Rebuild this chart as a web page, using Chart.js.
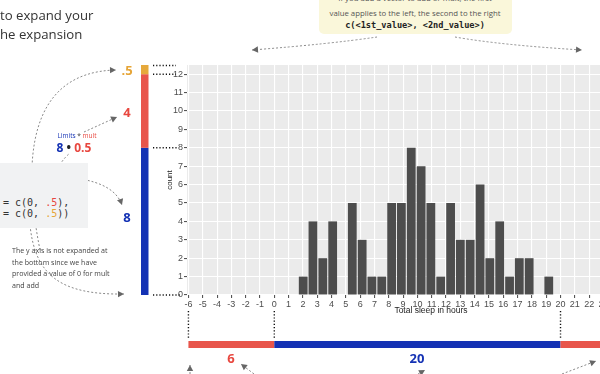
<!DOCTYPE html>
<html>
<head>
<meta charset="utf-8">
<script src="https://cdn.jsdelivr.net/npm/chart.js@4.4.1/dist/chart.umd.min.js"></script>
<style>
  html, body { margin: 0; padding: 0; width: 600px; height: 374px; overflow: hidden; background: #fff; }
  #wrap { position: relative; width: 600px; height: 374px; overflow: hidden; }
  canvas { position: absolute; left: 0; top: 0; }
  .t { position: absolute; white-space: nowrap; font-family: "Open Sans", sans-serif; }
  .c { transform: translate(-50%, -50%); }
  .mono { font-family: "DejaVu Sans Mono", monospace; }
  .blue { color: #1432B4; }
  .red { color: #E8473F; }
  .yel { color: #E6A537; }
  .big { font-weight: 700; font-size: 13px; line-height: 13px; }
</style>
</head>
<body>
<div id="wrap">
  <canvas id="myChart" width="690" height="374"></canvas>

  <div class="t" style="left:0px; top:6px; font-size:13.2px; line-height:18px; color:#333;">to expand your</div>
  <div class="t" style="left:0px; top:25px; font-size:13.2px; line-height:18px; color:#333;">he expansion</div>

  <div class="t" style="left:319px; top:-6px; width:193px; height:40px; background:#FAF7DA; border-radius:5px;"></div>
  <div class="t c" style="left:415px; top:-2px; font-size:7.8px; line-height:9px; color:#555;">If you add a vector to add or mult, the first</div>
  <div class="t c" style="left:415px; top:13px; font-size:7.8px; line-height:9px; color:#555;">value applies to the left, the second to the right</div>
  <div class="t c mono" style="left:415px; top:25px; font-size:8.6px; line-height:10px; font-weight:700; color:#222;">c(&lt;1st_value&gt;, &lt;2nd_value&gt;)</div>

  <div class="t" style="left:0px; top:163px; width:88px; height:65px; background:#F1F2F3;"></div>
  <div class="t mono" style="left:3px; top:197px; font-size:10px; line-height:12px; color:#333;">= c(0, <span class="red">.5</span>),</div>
  <div class="t mono" style="left:3px; top:208px; font-size:10px; line-height:12px; color:#333;">= c(0, <span class="yel">.5</span>))</div>

  <div class="t c" style="left:77px; top:136px; font-size:6.5px; line-height:8px; color:#333;"><span class="blue">Limits</span> * <span class="red">mult</span></div>
  <div class="t c" style="left:74px; top:147px; font-size:12px; line-height:13px; font-weight:700; color:#222;"><span class="blue">8</span> • <span class="red">0.5</span></div>

  <div class="t" style="left:12px; top:245px; font-size:7.1px; line-height:11.5px; color:#444;">The y axis is not expanded at<br>the bottom since we have<br>provided a value of 0 for mult<br>and add</div>

  <div class="t c big yel" style="left:127px; top:70px;">.5</div>
  <div class="t c big red" style="left:127px; top:112px;">4</div>
  <div class="t c big blue" style="left:127px; top:217px;">8</div>
  <div class="t c big red" style="left:231px; top:358px;">6</div>
  <div class="t c big blue" style="left:417px; top:358px;">20</div>
</div>

<script>
// histogram of total sleep (bin centres in hours, counts per bin)
var binCenters = [2.02, 2.70, 3.39, 4.08, 4.76, 5.45, 6.14, 6.82, 7.51, 8.20, 8.88, 9.57, 10.26,
                  10.94, 11.63, 12.32, 13.00, 13.69, 14.38, 15.06, 15.75, 16.44, 17.12, 17.81, 18.50, 19.18];
var binCounts = [1, 4, 2, 4, 0, 5, 3, 1, 1, 5, 5, 8, 7, 5, 1, 5, 3, 3, 6, 2, 4, 1, 2, 2, 0, 1];

// expansion segments: limits, mult, add
var ySegments = [0, 8, 12, 12.5];
var xSegments = [-6, 0, 20, 28];

var BLUE = '#1432B4', RED = '#E8554B', YEL = '#E6A93B';

function arrowHead(ctx, x, y, ang) {
  ctx.save();
  ctx.setLineDash([]);
  ctx.fillStyle = '#666';
  ctx.translate(x, y);
  ctx.rotate(ang);
  ctx.beginPath();
  ctx.moveTo(0, 0);
  ctx.lineTo(-6, -3.2);
  ctx.lineTo(-6, 3.2);
  ctx.closePath();
  ctx.fill();
  ctx.restore();
}

function curve(ctx, pts, head) {
  ctx.save();
  ctx.strokeStyle = '#888';
  ctx.lineWidth = 1;
  ctx.setLineDash([2, 2]);
  ctx.beginPath();
  ctx.moveTo(pts[0], pts[1]);
  if (pts.length === 4) ctx.lineTo(pts[2], pts[3]);
  else if (pts.length === 6) ctx.quadraticCurveTo(pts[2], pts[3], pts[4], pts[5]);
  else ctx.bezierCurveTo(pts[2], pts[3], pts[4], pts[5], pts[6], pts[7]);
  ctx.stroke();
  ctx.restore();
  if (head) {
    var n = pts.length;
    var ang = Math.atan2(pts[n - 1] - pts[n - 3], pts[n - 2] - pts[n - 4]);
    arrowHead(ctx, pts[n - 2], pts[n - 1], ang);
  }
}

function dotted(ctx, x1, y1, x2, y2) {
  ctx.save();
  ctx.strokeStyle = '#111';
  ctx.lineWidth = 1.4;
  ctx.setLineDash([1.2, 2]);
  ctx.beginPath();
  ctx.moveTo(x1, y1);
  ctx.lineTo(x2, y2);
  ctx.stroke();
  ctx.restore();
}

function intOnly(s) {
  s.ticks = s.ticks.filter(function(t) { return Number.isInteger(t.value); });
}

var annot = {
  id: 'annot',
  beforeDraw: function(chart) {
    var a = chart.chartArea, ctx = chart.ctx;
    ctx.save();
    ctx.fillStyle = '#EBEBEB';
    ctx.fillRect(a.left, a.top, a.right - a.left, a.bottom - a.top);
    ctx.restore();
  },
  afterDraw: function(chart) {
    var ctx = chart.ctx, xs = chart.scales.x, ys = chart.scales.y;
    var cols = [BLUE, RED, YEL];
    // vertical expansion bar
    for (var i = 0; i < 3; i++) {
      var t = ys.getPixelForValue(ySegments[i + 1]), b = ys.getPixelForValue(ySegments[i]);
      ctx.fillStyle = cols[i];
      ctx.fillRect(141, t, 7.5, b - t);
    }
    dotted(ctx, 153, ys.getPixelForValue(12.5) + 0.5, 176, ys.getPixelForValue(12.5) + 0.5);
    dotted(ctx, 153, ys.getPixelForValue(12), 176, ys.getPixelForValue(12));
    dotted(ctx, 153, ys.getPixelForValue(8), 178, ys.getPixelForValue(8));
    dotted(ctx, 153, ys.getPixelForValue(0), 180, ys.getPixelForValue(0));

    // horizontal expansion bar
    var hc = [RED, BLUE, RED];
    for (var j = 0; j < 3; j++) {
      var l = xs.getPixelForValue(xSegments[j]), r = xs.getPixelForValue(xSegments[j + 1]);
      ctx.fillStyle = hc[j];
      ctx.fillRect(l, 341, r - l, 7);
    }
    [-6, 0, 20].forEach(function(v) {
      var px = xs.getPixelForValue(v);
      dotted(ctx, px, 311, px, 339);
    });

    // curved arrows
    curve(ctx, [377, 37, 330, 44, 252, 50], true);
    curve(ctx, [455, 37, 500, 45, 582, 50], true);
    curve(ctx, [40, 250, 22, 160, 28, 72, 116, 70], true);
    curve(ctx, [30, 225, 35, 275, 60, 295, 124, 294], true);
    curve(ctx, [0, 182, 60, 172, 112, 176, 122, 205], true);
    curve(ctx, [53, 196, 52, 168, 70, 153]);
    curve(ctx, [84, 132, 117, 117], true);
    curve(ctx, [190, 374, 190, 365], true);
    curve(ctx, [254, 374, 241, 364], true);
    curve(ctx, [418, 374, 425, 370], true);
    curve(ctx, [562, 374, 596, 361], true);
  }
};

var ctx = document.getElementById('myChart').getContext('2d');
var myChart = new Chart(ctx, {
  type: 'bar',
  data: {
    datasets: [{
      label: 'count',
      data: binCenters.map(function(x, i) { return { x: x, y: binCounts[i] }; }),
      backgroundColor: '#4D4D4D',
      borderWidth: 0,
      barPercentage: 0.9,
      categoryPercentage: 1
    }]
  },
  options: {
    responsive: false,
    animation: false,
    events: [],
    layout: { padding: { left: 165, top: 65, right: 15, bottom: 55 } },
    plugins: { legend: { display: false }, tooltip: { enabled: false } },
    scales: {
      x: {
        type: 'linear',
        offset: false,
        min: -6.1,
        max: xSegments[3],
        afterBuildTicks: intOnly,
        afterFit: function(s) { s.height = 24; },
        ticks: { stepSize: 1, includeBounds: false, autoSkip: false, maxRotation: 0, padding: 1, color: '#4D4D4D',
                 font: { family: 'Liberation Sans, Arial', size: 9 } },
        grid: { offset: false, color: '#FFFFFF', lineWidth: 1.1, tickColor: '#555', tickLength: 3 },
        border: { display: false },
        title: { display: true, text: 'Total sleep in hours', color: '#222', padding: { top: 0, bottom: 3 },
                 font: { family: 'Liberation Sans, Arial', size: 8.5 } }
      },
      y: {
        min: 0,
        max: ySegments[3],
        afterBuildTicks: intOnly,
        afterFit: function(s) { s.width = 22; },
        ticks: { stepSize: 1, includeBounds: false, padding: 1, color: '#4D4D4D',
                 font: { family: 'Liberation Sans, Arial', size: 9 } },
        grid: { color: '#FFFFFF', lineWidth: 1.1, tickColor: '#555', tickLength: 3 },
        border: { display: false },
        title: { display: true, text: 'count', color: '#222', padding: 0,
                 font: { family: 'Liberation Sans, Arial', size: 8 } }
      }
    }
  },
  plugins: [annot]
});
</script>
</body>
</html>
